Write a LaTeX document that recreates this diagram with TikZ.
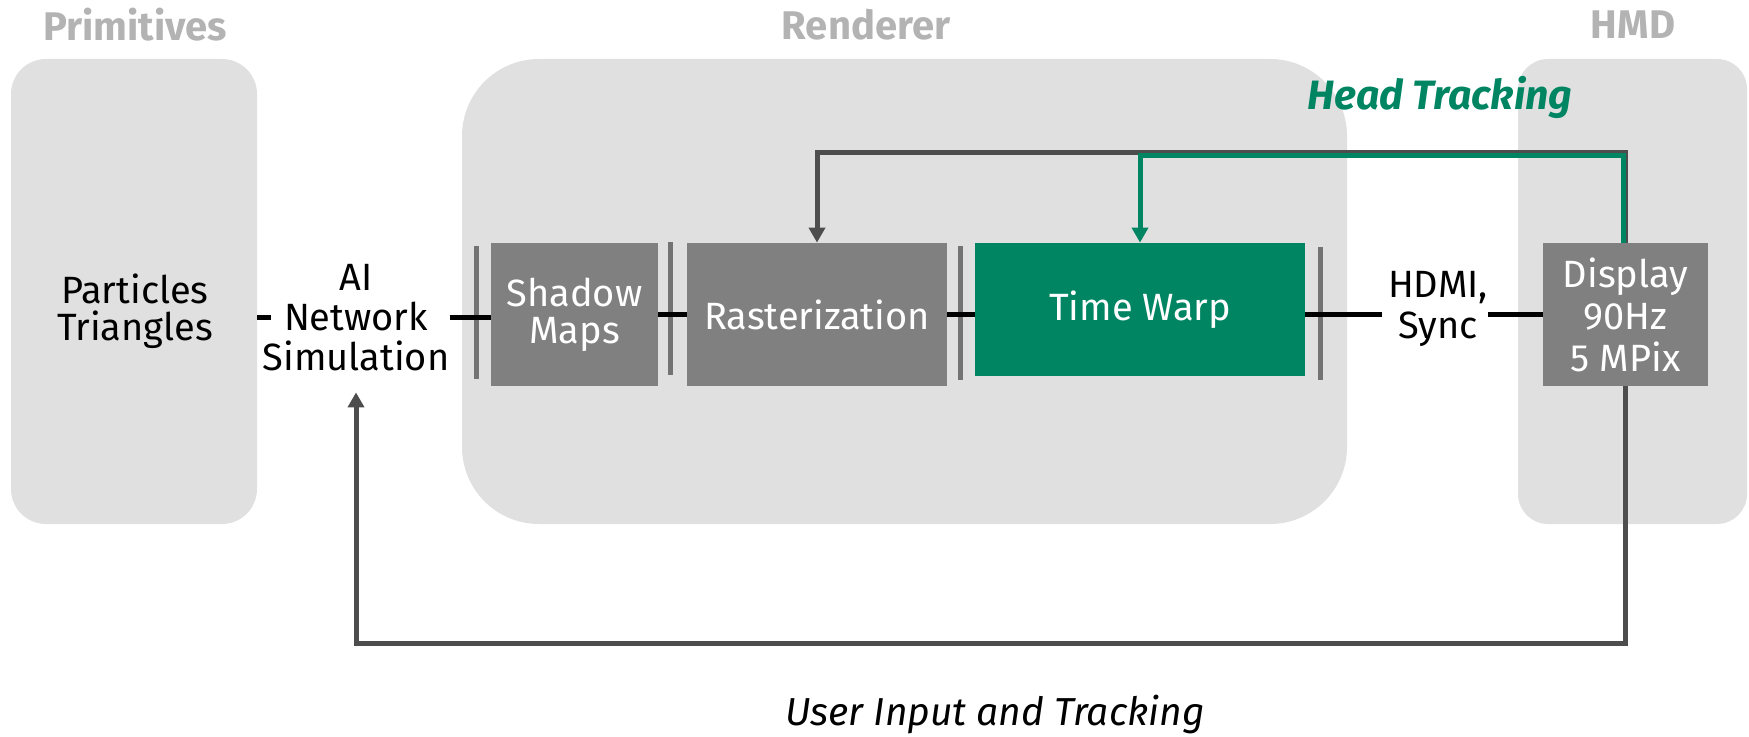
\documentclass[tikz,border=0pt]{standalone}
\usepackage{fontspec}
\setmainfont{Fira Sans}
\usetikzlibrary{arrows.meta}
\definecolor{panelgray}{HTML}{E0E0E0}
\definecolor{titlegray}{HTML}{B3B3B3}
\definecolor{boxgray}{HTML}{808080}
\definecolor{bargray}{HTML}{737373}
\definecolor{loopgray}{HTML}{4D4D4D}
\definecolor{nvgreen}{HTML}{008562}
\begin{document}
\begin{tikzpicture}[x=0.5pt,y=-0.5pt,
  panel/.style={fill=panelgray, draw=none, inner sep=0, minimum height=232.5pt},
  paneltitle/.style={text=titlegray, inner sep=0, font=\fontsize{20}{23}\selectfont\bfseries},
  stagebox/.style={fill=boxgray, text=white, inner sep=0, align=center, font=\fontsize{19}{18.5}\selectfont},
  sepbar/.style={fill=bargray, inner sep=0, minimum width=2.5pt, minimum height=66.5pt},
  textlbl/.style={inner sep=0, align=center, font=\fontsize{19}{18.5}\selectfont},
  wireline/.style={line width=2.5pt, black},
  fbline/.style={line width=2.5pt, loopgray, -{Triangle[length=7.5pt,width=8pt]}}
]
\useasboundingbox (0,0) rectangle (1749,737);

% panels
\node[panel, minimum width=123pt, rounded corners=17.5pt] (prim) at (134,291.5) {};
\node[panel, minimum width=442.5pt, rounded corners=38.5pt] (rend) at (904.5,291.5) {};
\node[panel, minimum width=114.5pt, rounded corners=15pt] (hmd) at (1632.5,291.5) {};

% titles
\node[paneltitle] (tprim) at (135,25) {Primitives};
\node[paneltitle] (trend) at (866,25) {Renderer};
\node[paneltitle] (thmd) at (1633,25) {HMD};

% separator bars
\node[sepbar] (b1) at (476,312.5) {};
\node[sepbar] (b2) at (670,308.5) {};
\node[sepbar] (b3) at (960,313) {};
\node[sepbar] (b4) at (1320,313.5) {};

% stages
\node[stagebox, minimum width=83.5pt, minimum height=71.5pt] (sm) at (574.5,314.5) {Shadow\\Maps};
\node[stagebox, minimum width=130pt, minimum height=71.5pt] (ras) at (817,314.5) {Rasterization};
\node[stagebox, fill=nvgreen, minimum width=165pt, minimum height=66.5pt] (tw) at (1140,309.5) {Time Warp};
\node[stagebox, minimum width=82.5pt, minimum height=71.5pt, font=\fontsize{19}{21}\selectfont] (disp) at (1625.5,314.5) {Display\\90Hz\\5 MPix};

% text nodes
\node[textlbl] (parts) at (135,311) {Particles\\Triangles};
\node[textlbl, minimum height=74pt, font=\fontsize{19}{20}\selectfont] (ai) at (356,318) {AI\\Network\\Simulation};
\node[textlbl, font=\fontsize{19}{20.5}\selectfont] (hdmi) at (1438,309) {HDMI,\\Sync};

% connectors
\draw[wireline, shorten >=-4.5pt] (prim.east |- ai) -- (ai.west);
\draw[wireline] (ai.east) -- (sm.west |- ai.east);
\draw[wireline] (sm.east) -- (ras.west);
\draw[wireline] (ras.east) -- (tw.west |- ras.east);
\draw[wireline, shorten >=3pt] (tw.east |- ras.east) -- (hdmi.west |- ras.east);
\draw[wireline] (hdmi.east |- disp.west) -- (disp.west);

% feedback loops
\coordinate (htop) at (817,153);
\coordinate (gtop) at (1140,155.5);
\coordinate (ubot) at (356,643);
\draw[fbline] (disp.north) |- (htop) -- (ras.north);
\draw[fbline, nvgreen] ([xshift=-1pt]disp.north) |- (gtop) -- (tw.north);
\draw[fbline] (disp.south) |- (ubot) -- (ai.south);

% loop labels
\node[inner sep=0, text=nvgreen, font=\fontsize{20.5}{23}\selectfont\bfseries\itshape] (ht) at (1440,97) {Head Tracking};
\node[inner sep=0, font=\fontsize{19.5}{22}\selectfont\itshape] (ui) at (995,714) {User Input and Tracking};
\end{tikzpicture}
\end{document}
